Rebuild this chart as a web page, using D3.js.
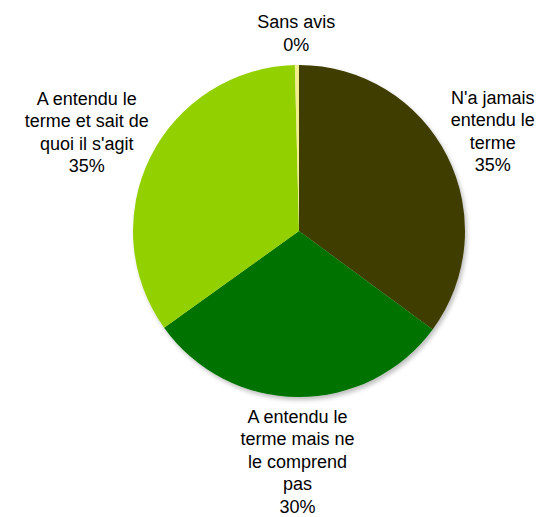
<!DOCTYPE html>
<html>
<head>
<meta charset="utf-8">
<script src="https://cdn.jsdelivr.net/npm/d3@7"></script>
<style>
  body { margin: 0; background: #fff; }
  text { font-family: "Liberation Sans", Arial, sans-serif; font-size: 18px; fill: #000; }
</style>
</head>
<body>
<svg id="chart" width="542" height="517"></svg>
<script>
// data
const categories = [
  "N'a jamais entendu le terme",
  "A entendu le terme mais ne le comprend pas",
  "A entendu le terme et sait de quoi il s'agit",
  "Sans avis"
];
const labelLines = [
  ["N'a jamais", "entendu le", "terme"],
  ["A entendu le", "terme mais ne", "le comprend", "pas"],
  ["A entendu le", "terme et sait de", "quoi il s'agit"],
  ["Sans avis"]
];
const values = [35.1, 30.0, 34.5, 0.4];
const colors = ["#3f3d00", "#007200", "#92d000", "#f2f08c"];

const svg = d3.select("#chart");
const cx = 299, cy = 231, radius = 166;
const lineH = 22.5, gap = 9;

// soft shadow like the office chart
const defs = svg.append("defs");
const filt = defs.append("filter").attr("id", "shadow")
  .attr("x", "-10%").attr("y", "-10%").attr("width", "120%").attr("height", "120%");
filt.append("feDropShadow")
  .attr("dx", 2).attr("dy", 3).attr("stdDeviation", 2)
  .attr("flood-color", "#000").attr("flood-opacity", 0.25);

const pie = d3.pie().sort(null).value(d => d);
const arcs = pie(values);
const arc = d3.arc().innerRadius(0).outerRadius(radius);

const g = svg.append("g").attr("transform", `translate(${cx},${cy})`);
g.append("g").attr("filter", "url(#shadow)")
  .selectAll("path")
  .data(arcs)
  .join("path")
  .attr("d", arc)
  .attr("fill", (d, i) => colors[i]);

// labels: multi-line blocks placed outside each slice
arcs.forEach((d, i) => {
  const a = (d.startAngle + d.endAngle) / 2;
  const lines = labelLines[i].concat([Math.round(d.value) + "%"]);
  const t = g.append("text").attr("text-anchor", "middle");
  lines.forEach((s, k) => {
    t.append("tspan").attr("x", 0).attr("dy", k === 0 ? 0 : lineH).text(s);
  });
  const bb = t.node().getBBox();
  const w = bb.width, h = lines.length * lineH;
  const px = Math.sin(a) * (radius + gap) + Math.sin(a) * w / 2;
  const py = -Math.cos(a) * (radius + gap) - Math.cos(a) * h / 2;
  const top = py - h / 2;
  t.attr("transform", `translate(${px},${top + 17})`);
});
</script>
</body>
</html>
